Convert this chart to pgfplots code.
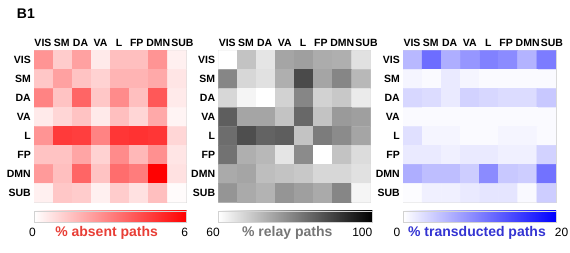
\documentclass[border=0pt]{standalone}
\usepackage{fontspec}
\setmainfont{Liberation Sans}
\usepackage{pgfplots}
\pgfplotsset{compat=1.18}
\definecolor{absred}{RGB}{232,62,54}
\definecolor{relgray}{RGB}{118,118,118}
\definecolor{trblue}{RGB}{52,52,210}
\pgfplotsset{
  heat/.style={
    scale only axis, width=152.5pt, height=151.6pt,
    xmin=-0.5, xmax=7.5, ymin=-0.5, ymax=7.5, y dir=reverse,
    xtick={-0.03,0.95,1.94,2.99,3.96,4.89,6.02,7.29},
    xticklabels={VIS,SM,DA,VA,L,FP,DMN,SUB},
    ytick={0,...,7},
    yticklabels={VIS,SM,DA,VA,L,FP,DMN,SUB},
    xticklabel pos=upper,
    major tick length=0pt,
    tick label style={font=\bfseries\fontsize{10.5}{12}\selectfont},
    xticklabel style={anchor=base, inner sep=0pt, yshift=3.7pt},
    yticklabel style={anchor=east, inner sep=0pt, xshift=-3pt},
    axis line style={gray!30},
    point meta=explicit,
    colorbar horizontal,
  },
  cbar/.style={
    scale only axis, height=11pt,
    ytick=\empty, major tick length=0pt,
    axis line style={gray!35},
    /pgf/number format/assume math mode=true,
    xticklabel style={font=\fontsize{12}{14}\selectfont, anchor=base, inner sep=0pt, yshift=-14.3pt},
    xlabel style={at={(axis description cs:0.5,0)}, anchor=base, inner sep=0pt, yshift=-14.3pt,
      font=\bfseries\fontsize{14}{16}\selectfont},
  },
}
\begin{document}
\begin{tikzpicture}[x=1pt,y=1pt]
\useasboundingbox (0,0) rectangle (570,253);
\node[anchor=base west, inner sep=0pt, font=\bfseries\fontsize{14}{16}\selectfont] at (16.7,234.7) {B1};

% ---------- absent paths ----------
\begin{axis}[heat, at={(34pt,50.7pt)}, anchor=south west,
  colormap={reds}{rgb255=(255,255,255) rgb255=(255,0,0)},
  point meta min=0, point meta max=6,
  colorbar style={cbar, at={([xshift=-1.7pt,yshift=-16pt]parent axis.south west)}, anchor=north west,
    width=152.7pt, xtick={0,6}, xticklabels={\kern-3.2pt 0,\kern-4pt 6},
    xlabel={\% absent paths}, xlabel style={xshift=-3.7pt, text=absred}}]
\addplot[matrix plot*, mesh/cols=8] coordinates {
(0,0)[2.5] (1,0)[1.2] (2,0)[2.2] (3,0)[0.5] (4,0)[1.5] (5,0)[1.5] (6,0)[2.5] (7,0)[0.35]

(0,1)[1.3] (1,1)[2.2] (2,1)[1.4] (3,1)[1.05] (4,1)[1.75] (5,1)[1.75] (6,1)[2.0] (7,1)[0.6]

(0,2)[2.9] (1,2)[1.4] (2,2)[3.6] (3,2)[1.3] (4,2)[2.7] (5,2)[1.5] (6,2)[3.9] (7,2)[0.5]

(0,3)[0.5] (1,3)[0.95] (2,3)[1.4] (3,3)[0.5] (4,3)[1.5] (5,3)[0.95] (6,3)[2.0] (7,3)[0.25]

(0,4)[2.5] (1,4)[4.6] (2,4)[4.5] (3,4)[2.9] (4,4)[4.7] (5,4)[4.8] (6,4)[4.7] (7,4)[0.95]

(0,5)[1.4] (1,5)[1.4] (2,5)[2.1] (3,5)[1.05] (4,5)[2.7] (5,5)[1.65] (6,5)[2.6] (7,5)[0.6]

(0,6)[2.35] (1,6)[1.5] (2,6)[3.6] (3,6)[1.4] (4,6)[3.4] (5,6)[3.05] (6,6)[5.9] (7,6)[0.7]

(0,7)[0.35] (1,7)[1.3] (2,7)[1.2] (3,7)[0.35] (4,7)[1.2] (5,7)[0.7] (6,7)[1.5] (7,7)[0.1]
};
\end{axis}

% ---------- relay paths ----------
\begin{axis}[heat, at={(218.3pt,50.7pt)}, anchor=south west, width=152.2pt,
  colormap={grays}{rgb255=(255,255,255) rgb255=(0,0,0)},
  point meta min=60, point meta max=100,
  colorbar style={cbar, at={([xshift=1pt,yshift=-16pt]parent axis.south west)}, anchor=north west,
    width=154pt, xtick={60,100}, xticklabels={\kern-10.6pt 60,\kern-20pt 100},
    xlabel={\% relay paths}, xlabel style={xshift=-8pt, text=relgray}}]
\addplot[matrix plot*, mesh/cols=8] coordinates {
(0,0)[60] (1,0)[69.4] (2,0)[64] (3,0)[74] (4,0)[75] (5,0)[73] (6,0)[72.5] (7,0)[64.7]

(0,1)[78.8] (1,1)[66.3] (2,1)[64.7] (3,1)[72.5] (4,1)[88.2] (5,1)[74] (6,1)[78.8] (7,1)[71]

(0,2)[66.3] (1,2)[61.6] (2,2)[60] (3,2)[67] (4,2)[78.8] (5,2)[67] (6,2)[68.6] (7,2)[63.1]

(0,3)[85] (1,3)[74] (2,3)[74] (3,3)[69.4] (4,3)[83.5] (5,3)[69.4] (6,3)[75.7] (7,3)[74.9]

(0,4)[82.7] (1,4)[87.5] (2,4)[84.3] (3,4)[85] (4,4)[69.4] (5,4)[80.4] (6,4)[78] (7,4)[74]

(0,5)[82] (1,5)[72.5] (2,5)[71] (3,5)[64] (4,5)[78] (5,5)[60] (6,5)[69.4] (7,5)[65.5]

(0,6)[73.3] (1,6)[74] (2,6)[70.2] (3,6)[69.4] (4,6)[68.6] (5,6)[66.3] (6,6)[66.3] (7,6)[64.7]

(0,7)[76.5] (1,7)[73.3] (2,7)[71.8] (3,7)[76.5] (4,7)[75] (5,7)[73.3] (6,7)[78.8] (7,7)[61.6]
};
\end{axis}

% ---------- transducted paths ----------
\begin{axis}[heat, at={(403pt,50.7pt)}, anchor=south west, width=153pt,
  colormap={blues}{rgb255=(255,255,255) rgb255=(0,0,255)},
  point meta min=0, point meta max=20,
  colorbar style={cbar, at={([yshift=-16pt]parent axis.south west)}, anchor=north west,
    width=153pt, xtick={0,20}, xticklabels={\kern-12pt 0,20\kern-11pt},
    xlabel={\% transducted paths}, xlabel style={xshift=-2.5pt, text=trblue}}]
\addplot[matrix plot*, mesh/cols=8] coordinates {
(0,0)[5.5] (1,0)[11.4] (2,0)[6.3] (3,0)[8.2] (4,0)[9.8] (5,0)[9] (6,0)[5.9] (7,0)[10.2]

(0,1)[0.8] (1,1)[0.4] (2,1)[1.6] (3,1)[0.8] (4,1)[0.4] (5,1)[0.4] (6,1)[0.4] (7,1)[0.4]

(0,2)[3.1] (1,2)[2.7] (2,2)[1.6] (3,2)[3.5] (4,2)[3.1] (5,2)[2.7] (6,2)[2.7] (7,2)[4.3]

(0,3)[0.4] (1,3)[0.4] (2,3)[0.4] (3,3)[0.4] (4,3)[0.4] (5,3)[0.4] (6,3)[0.4] (7,3)[0.4]

(0,4)[2.4] (1,4)[0.8] (2,4)[0.8] (3,4)[0.4] (4,4)[0.4] (5,4)[0.8] (6,4)[0.8] (7,4)[0.4]

(0,5)[1.6] (1,5)[1.6] (2,5)[1.2] (3,5)[1.6] (4,5)[1.6] (5,5)[1.2] (6,5)[1.2] (7,5)[3.5]

(0,6)[6.3] (1,6)[5.1] (2,6)[5.1] (3,6)[3.9] (4,6)[9] (5,6)[4.3] (6,6)[3.9] (7,6)[11]

(0,7)[0.2] (1,7)[1.2] (2,7)[1.2] (3,7)[1.6] (4,7)[2.0] (5,7)[2.0] (6,7)[0.5] (7,7)[3.9]
};
\end{axis}
\end{tikzpicture}
\end{document}
